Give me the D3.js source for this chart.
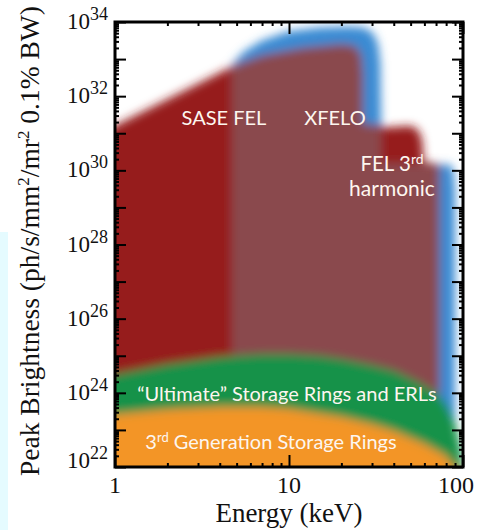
<!DOCTYPE html>
<html>
<head>
<meta charset="utf-8">
<script src="https://cdn.jsdelivr.net/npm/d3@7"></script>
<style>
  body { margin: 0; background: #fff; }
  .tick line { stroke: #000; stroke-width: 2; }
  .serif { font-family: "Liberation Serif", "DejaVu Serif", serif; fill: #111; }
  .src { font-family: Lato, "Open Sans", sans-serif; fill: #fdf6ef; }
</style>
</head>
<body>
<svg id="chart" width="477" height="530"></svg>
<script>
// Axis ticks
const energyTicks = [1, 10, 100];
const brightnessExponents = [22, 24, 26, 28, 30, 32, 34];

// Source envelopes as [photon energy (keV), log10 peak brightness]
const saseFEL = [
  [0.8, 20.5], [0.8, 30.97], [1, 31.2], [2, 31.92], [4.7, 32.8], [7, 33.1],
  [12, 33.3], [20, 33.4], [24, 33.35], [26, 33.1], [26.5, 32.6],
  [26.5, 31.25], [35, 31.2], [35, 20.5]
];
const xfelo = [
  [4.7, 20.5], [4.7, 32.85], [5.5, 33.2], [7, 33.5], [10, 33.75], [15, 33.85],
  [22, 33.88], [27, 33.85], [30.5, 33.7], [32.5, 33.4], [33.5, 32.9],
  [33.8, 31.2], [33.8, 30.2], [85, 30.15], [88, 30.0], [90, 29.5], [90, 20.5]
];
const felThirdHarmonic = [
  [34.7, 20.5], [34.7, 31.15], [50, 31.2], [55, 31.1], [58, 30.85], [59, 30.5],
  [59, 30.25], [73, 30.15], [73, 20.5]
];
const ultimateRingsTop = [
  [0.8, 24.4], [1, 24.5], [2, 24.78], [4, 24.97], [7, 25.05], [10, 25.05],
  [15, 25.0], [20, 24.92], [30, 24.75], [40, 24.6], [55, 24.3], [70, 24.0],
  [80, 23.7], [90, 23.2], [97, 22.5], [102, 21.5], [104, 20.5]
];
const thirdGenRingsTop = [
  [0.8, 23.35], [1, 23.42], [2, 23.55], [4, 23.62], [7, 23.62], [10, 23.57],
  [20, 23.35], [30, 23.15], [40, 22.97], [60, 22.62], [80, 22.3], [92, 21.9],
  [97, 21.4], [99, 20.5]
];

const colors = {
  fel: "#961b1f",
  overlap: "#8a4a4d",
  xfelo: "#3b8bd3",
  ultimate: "#14924a",
  thirdGen: "#f39526"
};

const svg = d3.select("#chart");
const W = 477, H = 530;
const pL = 115, pR = 463, pT = 22, pB = 467;

const x = d3.scaleLog().domain([1, 100]).range([pL, pR]);
const y = d3.scaleLog().domain([1e22, 1e34]).range([pB, pT]);

const line = d3.line()
  .x(d => x(d[0]))
  .y(d => y(Math.pow(10, d[1])));
const closed = pts => line(pts) + "Z";
const underCurve = pts => closed(pts.concat([[pts[pts.length - 1][0], 20.5], [pts[0][0], 20.5]]));

const defs = svg.append("defs");
defs.append("clipPath").attr("id", "plotClip")
  .append("rect").attr("x", pL).attr("y", pT)
  .attr("width", pR - pL).attr("height", pB - pT);
defs.append("clipPath").attr("id", "xfeloClip")
  .append("path").attr("d", closed(xfelo));
defs.append("filter").attr("id", "soft")
  .attr("filterUnits", "userSpaceOnUse")
  .attr("x", 0).attr("y", 0).attr("width", W).attr("height", H)
  .append("feGaussianBlur").attr("stdDeviation", 4.8);

// side strip
svg.append("rect").attr("x", 0).attr("y", 232).attr("width", 8).attr("height", H - 232)
  .attr("fill", "#e5fbff");

const plot = svg.append("g").attr("clip-path", "url(#plotClip)");
const regions = plot.append("g").attr("filter", "url(#soft)");

regions.append("path").attr("d", closed(xfelo)).attr("fill", colors.xfelo);
regions.append("path").attr("d", closed(saseFEL)).attr("fill", colors.fel);
regions.append("path").attr("d", closed(felThirdHarmonic)).attr("fill", colors.fel);
const both = regions.append("g").attr("clip-path", "url(#xfeloClip)");
both.append("path").attr("d", closed(saseFEL)).attr("fill", colors.overlap);
both.append("path").attr("d", closed(felThirdHarmonic)).attr("fill", colors.overlap);
regions.append("path").attr("d", underCurve(ultimateRingsTop)).attr("fill", colors.ultimate);
regions.append("path").attr("d", underCurve(thirdGenRingsTop)).attr("fill", colors.thirdGen);

// source names
const src = svg.append("g").attr("class", "src").attr("font-size", 20);
src.append("text").attr("x", 224).attr("y", 125).attr("text-anchor", "middle").text("SASE FEL");
src.append("text").attr("x", 335).attr("y", 125).attr("text-anchor", "middle").text("XFELO");
const fel3 = src.append("text").attr("x", 392).attr("y", 171).attr("text-anchor", "middle")
  .attr("font-size", 20.5);
fel3.append("tspan").text("FEL 3");
fel3.append("tspan").attr("font-size", 14).attr("dy", -7).text("rd");
src.append("text").attr("x", 392).attr("y", 196).attr("text-anchor", "middle")
  .attr("font-size", 21).text("harmonic");
src.append("text").attr("x", 287).attr("y", 401).attr("text-anchor", "middle")
  .text("\u201CUltimate\u201D Storage Rings and ERLs");
const gen3 = src.append("text").attr("x", 271).attr("y", 449).attr("text-anchor", "middle");
gen3.append("tspan").text("3");
gen3.append("tspan").attr("font-size", 13).attr("dy", -7).text("rd");
gen3.append("tspan").attr("dy", 7).text(" Generation Storage Rings");

// axes: ticks on all four sides, pointing inward
const majorB = d3.range(22, 35).map(e => Math.pow(10, e));
const minorB = [];
d3.range(22, 34).forEach(e => { for (let k = 2; k <= 9; k++) minorB.push(k * Math.pow(10, e)); });
const majorE = energyTicks;
const minorE = [];
[1, 10].forEach(d => { for (let k = 2; k <= 9; k++) minorE.push(k * d); });

function ticks(axis, tf) {
  const g = svg.append("g").attr("transform", tf).call(axis);
  g.select(".domain").remove();
  g.selectAll("text").remove();
  return g;
}
ticks(d3.axisRight(y).tickValues(majorB).tickSize(11), `translate(${pL},0)`);
ticks(d3.axisRight(y).tickValues(minorB).tickSize(4), `translate(${pL},0)`);
ticks(d3.axisLeft(y).tickValues(majorB).tickSize(11), `translate(${pR},0)`);
ticks(d3.axisLeft(y).tickValues(minorB).tickSize(4), `translate(${pR},0)`);
ticks(d3.axisTop(x).tickValues(majorE).tickSize(12), `translate(0,${pB})`);
ticks(d3.axisTop(x).tickValues(minorE).tickSize(4), `translate(0,${pB})`);
ticks(d3.axisBottom(x).tickValues(majorE).tickSize(12), `translate(0,${pT})`);
ticks(d3.axisBottom(x).tickValues(minorE).tickSize(4), `translate(0,${pT})`);

svg.append("rect").attr("x", pL).attr("y", pT)
  .attr("width", pR - pL).attr("height", pB - pT)
  .attr("fill", "none").attr("stroke", "#000").attr("stroke-width", 3);

// tick labels
const yl = svg.append("g").attr("class", "serif").attr("font-size", 23);
brightnessExponents.forEach(e => {
  const t = yl.append("text").attr("x", 108)
    .attr("y", y(Math.pow(10, e)) + (e === 22 ? 1 : 7))
    .attr("text-anchor", "end");
  t.append("tspan").text("10");
  t.append("tspan").attr("font-size", 18).attr("dy", -9).text(e);
});
const xl = svg.append("g").attr("class", "serif").attr("font-size", 24);
energyTicks.forEach((v, i) => {
  const last = i === energyTicks.length - 1;
  xl.append("text")
    .attr("x", last ? 474 : x(v))
    .attr("y", 493)
    .attr("text-anchor", last ? "end" : "middle")
    .text(v);
});

// axis titles
svg.append("text").attr("class", "serif").attr("font-size", 27)
  .attr("x", 289).attr("y", 522).attr("text-anchor", "middle").text("Energy (keV)");
const yt = svg.append("text").attr("class", "serif").attr("font-size", 27.5)
  .attr("text-anchor", "middle")
  .attr("transform", "translate(39,241) rotate(-90)");
yt.append("tspan").text("Peak Brightness (ph/s/mm");
yt.append("tspan").attr("font-size", 17).attr("dy", -10).text("2");
yt.append("tspan").attr("dy", 10).text("/mr");
yt.append("tspan").attr("font-size", 17).attr("dy", -10).text("2");
yt.append("tspan").attr("dy", 10).text(" 0.1% BW)");
</script>
</body>
</html>
